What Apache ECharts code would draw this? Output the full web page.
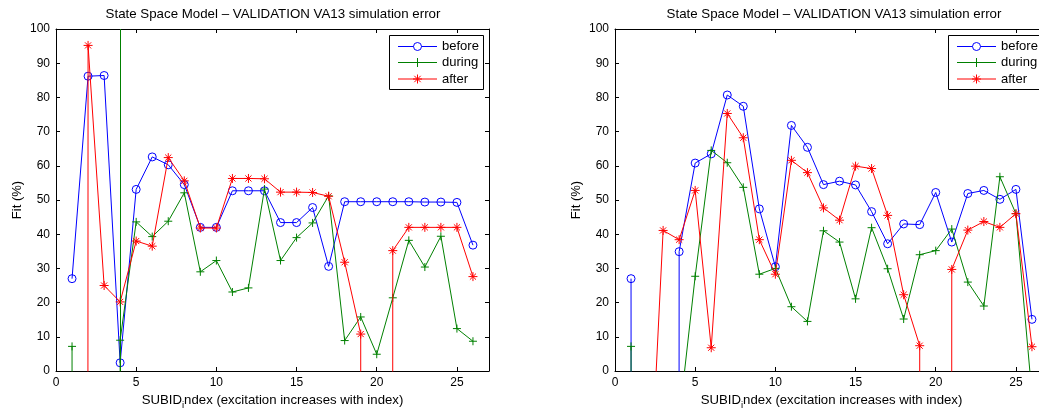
<!DOCTYPE html>
<html>
<head>
<meta charset="utf-8">
<script src="https://cdn.jsdelivr.net/npm/echarts@6/dist/echarts.min.js"></script>
<style>
  html, body { margin: 0; padding: 0; background: #fff; }
  #chart { width: 1039px; height: 411px; }
</style>
</head>
<body>
<div id="chart"></div>
<script>
// SUBID index of each identification run
const subid = [1, 2, 3, 4, 5, 6, 7, 8, 9, 10, 11, 12, 13, 14, 15, 16, 17, 18, 19, 20, 21, 22, 23, 24, 25, 26];

// Diverged fits (far below the plotted range)
const OFF = -1e4;

// Fit (%) per SUBID, first subplot
const leftBefore = [27.0, 86.2, 86.4, 2.4, 53.1, 62.6, 60.3, 54.5, 42.0, 42.0, 52.7, 52.7, 52.7, 43.4, 43.4, 47.8, 30.6, 49.5, 49.5, 49.5, 49.5, 49.5, 49.4, 49.4, 49.3, 36.8];
const leftDuring = [7.2, OFF, OFF, 9.0, 43.6, 39.3, 43.8, 52.1, 29.0, 32.3, 23.1, 24.3, 53.2, 32.3, 39.0, 43.3, 51.2, 8.9, 15.8, 4.9, 21.4, 38.2, 30.4, 39.4, 12.4, 8.7];
const leftAfter = [OFF, 95.2, 25.0, 20.2, 38.0, 36.5, 62.4, 55.6, 41.8, 41.8, 56.3, 56.3, 56.2, 52.3, 52.3, 52.2, 51.1, 31.8, 10.8, OFF, 35.2, 42.0, 42.0, 42.0, 42.0, 27.6];
// SUBID where the "during" trace shoots through the whole axis
const leftDuringSpikeX = [4];

// Fit (%) per SUBID, second subplot
const rightBefore = [27.0, OFF, OFF, 34.9, 60.8, 63.5, 80.7, 77.4, 47.4, 30.5, 71.8, 65.4, 54.5, 55.5, 54.4, 46.6, 37.2, 43.0, 42.8, 52.2, 37.7, 51.9, 52.8, 50.2, 53.1, 15.1];
const rightDuring = [7.2, OFF, OFF, -14.2, 27.7, 64.5, 60.9, 53.7, 28.3, 30.0, 18.8, 14.5, 41.0, 37.7, 21.1, 41.9, 29.9, 15.2, 34.0, 35.2, 41.5, 26.0, 19.0, 56.8, 46.0, -7.0];
const rightAfter = [OFF, -54.0, 41.1, 38.4, 52.8, 6.8, 75.3, 68.2, 38.4, 28.3, 61.6, 58.0, 47.7, 44.1, 59.9, 59.2, 45.5, 22.3, 7.4, OFF, 29.7, 41.2, 43.7, 42.0, 46.0, 7.1];

const seriesNames = ['before', 'during', 'after'];
const titleText = 'State Space Model \u2013 VALIDATION VA13 simulation error';
const yName = 'Fit (%)';

const FONT = '"Liberation Sans", Arial, Helvetica, sans-serif';
const BLUE = '#0000ff', GREEN = '#008000', RED = '#ff0000';

const PLUS = 'path://M5,0L5,10M0,5L10,5';
const STAR = 'path://M5,0L5,10M0,5L10,5M1.6,1.6L8.4,8.4M8.4,1.6L1.6,8.4';

const panels = [
  { left: 56, title: 273, legend: 389, data: [leftBefore, leftDuring, leftAfter], spikes: leftDuringSpikeX },
  { left: 615, title: 834, legend: 948, data: [rightBefore, rightDuring, rightAfter], spikes: [] }
];
const GRID_W = 433, GRID_TOP = 29, GRID_H = 342;

const styles = [
  { color: BLUE, symbol: 'circle', size: 8, kind: 'circle' },
  { color: GREEN, symbol: PLUS, size: 8, kind: 'plus' },
  { color: RED, symbol: STAR, size: 9, kind: 'star' }
];

// Marker glyph for the legend box, centred on (cx, cy)
function legendMarker(kind, cx, cy, color) {
  const st = { stroke: color, lineWidth: 1, fill: null };
  if (kind === 'circle') {
    return [{ type: 'circle', shape: { cx, cy, r: 4 }, style: { stroke: color, lineWidth: 1, fill: '#fff' } }];
  }
  const r = 4.5, d = 3.2;
  const segs = [[cx, cy - r, cx, cy + r], [cx - r, cy, cx + r, cy]];
  if (kind === 'star') {
    segs.push([cx - d, cy - d, cx + d, cy + d], [cx + d, cy - d, cx - d, cy + d]);
  }
  return segs.map(s => ({ type: 'line', shape: { x1: s[0], y1: s[1], x2: s[2], y2: s[3] }, style: st }));
}

// Boxed legend: line sample with marker, then the series name
function legendBox(x0) {
  const y0 = 35, rowY = [46.5, 62.5, 79];
  const children = [{
    type: 'rect', shape: { x: x0 + 0.5, y: y0 + 0.5, width: 94, height: 54 },
    style: { fill: '#fff', stroke: '#000', lineWidth: 1 }
  }];
  seriesNames.forEach((n, i) => {
    const c = styles[i].color, y = rowY[i];
    children.push({ type: 'line', shape: { x1: x0 + 9, y1: y, x2: x0 + 48, y2: y }, style: { stroke: c, lineWidth: 1 } });
    children.push(...legendMarker(styles[i].kind, x0 + 28.5, y, c));
    children.push({
      type: 'text', x: x0 + 53, y: y,
      style: { text: n, fill: '#000', font: '13px ' + FONT, verticalAlign: 'middle', align: 'left' }
    });
  });
  return { type: 'group', z: 100, silent: true, children };
}

const option = {
  animation: false,
  backgroundColor: '#fff',
  textStyle: { fontFamily: FONT, color: '#000' },
  title: [], grid: [], xAxis: [], yAxis: [], series: [], graphic: []
};

panels.forEach((p, gi) => {
  option.title.push({
    text: titleText, left: p.title, top: 8, textAlign: 'center', padding: 0,
    textStyle: { fontFamily: FONT, fontSize: 13.3, fontWeight: 'normal', color: '#000' }
  });
  option.grid.push({
    left: p.left, top: GRID_TOP, width: GRID_W, height: GRID_H,
    containLabel: false, outerBoundsMode: 'none', show: false
  });
  const axisLine = { show: true, onZero: false, lineStyle: { color: '#000', width: 1 } };
  const tick = { show: true, inside: true, length: 4, lineStyle: { color: '#000', width: 1 } };
  // bottom x axis with labels and name
  option.xAxis.push({
    type: 'value', gridIndex: gi, position: 'bottom', min: 0, max: 27, interval: 5,
    axisLine, axisTick: tick, splitLine: { show: false },
    axisLabel: { show: true, color: '#000', fontSize: 12, fontFamily: FONT, margin: 6, showMaxLabel: false },
    name: '{a|SUBID}{s|i}{a|ndex (excitation increases with index)}',
    nameLocation: 'middle', nameGap: 15,
    nameTextStyle: {
      color: '#000', fontFamily: FONT, fontSize: 13.2,
      rich: {
        a: { fontSize: 13.2, fontFamily: FONT, color: '#000' },
        s: { fontSize: 9.5, fontFamily: FONT, color: '#000', padding: [10, 0, 0, 0] }
      }
    }
  });
  // top x axis (box edge with ticks)
  option.xAxis.push({
    type: 'value', gridIndex: gi, position: 'top', min: 0, max: 27, interval: 5,
    axisLine, axisTick: tick, axisLabel: { show: false }, splitLine: { show: false }
  });
  option.yAxis.push({
    type: 'value', gridIndex: gi, position: 'left', min: 0, max: 100, interval: 10,
    axisLine, axisTick: tick, splitLine: { show: false },
    axisLabel: { show: true, color: '#000', fontSize: 12, fontFamily: FONT, margin: 6 },
    name: yName, nameLocation: 'middle', nameGap: 32, nameRotate: 90,
    nameTextStyle: { color: '#000', fontFamily: FONT, fontSize: 13 }
  });
  option.yAxis.push({
    type: 'value', gridIndex: gi, position: 'right', min: 0, max: 100, interval: 10,
    axisLine, axisTick: tick, axisLabel: { show: false }, splitLine: { show: false }
  });

  option.graphic.push(legendBox(p.legend));

  p.data.forEach((vals, si) => {
    const st = styles[si];
    const s = {
      name: seriesNames[si], type: 'line', xAxisIndex: gi * 2, yAxisIndex: gi * 2,
      data: subid.map((x, i) => [x, vals[i]]),
      clip: true, showSymbol: true, showAllSymbol: true,
      symbol: st.symbol, symbolSize: st.size,
      lineStyle: { color: st.color, width: 1 },
      itemStyle: { color: 'rgba(0,0,0,0)', borderColor: st.color, borderWidth: 1 },
      emphasis: { disabled: true }, silent: true, z: 2 + si
    };
    if (si === 1 && p.spikes.length) {
      s.markLine = {
        silent: true, symbol: 'none', label: { show: false },
        lineStyle: { color: GREEN, type: 'solid', width: 1 },
        data: p.spikes.map(x => ({ xAxis: x }))
      };
    }
    option.series.push(s);
  });
});

const chart = echarts.init(document.getElementById('chart'), null, { renderer: 'canvas' });
chart.setOption(option);
</script>
</body>
</html>
